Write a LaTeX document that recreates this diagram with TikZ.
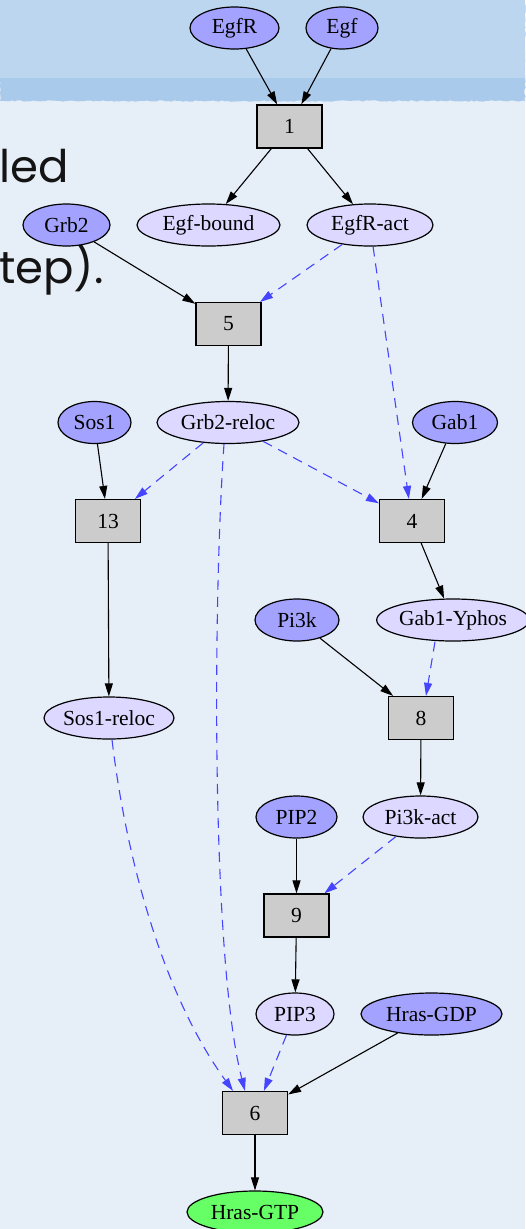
\documentclass[tikz,border=0pt]{standalone}
\usepackage{fontspec}
\setmainfont{Liberation Serif}
\newfontfamily\handfont{Poppins}
\usetikzlibrary{shapes.geometric,arrows.meta,decorations.pathmorphing}
\definecolor{bgLight}{HTML}{E6EEF7}
\definecolor{bgTop}{HTML}{BCD6EF}
\definecolor{bgBand}{HTML}{AACAEB}
\definecolor{darkfill}{HTML}{A3A3FF}
\definecolor{lightfill}{HTML}{DCD8FF}
\definecolor{greenfill}{HTML}{66FF66}
\definecolor{boxfill}{HTML}{CCCCCC}
\definecolor{dashblue}{HTML}{4545FF}
\definecolor{handtext}{HTML}{141414}
\begin{document}
\begin{tikzpicture}[x=1pt,y=-1pt,
  every node/.style={font=\fontsize{21.5}{24}\selectfont, inner sep=0pt},
  species/.style={ellipse, draw=black, line width=1.2pt, minimum height=42pt},
  inspecies/.style={species, fill=darkfill},
  midspecies/.style={species, fill=lightfill},
  outspecies/.style={species, fill=greenfill},
  rxn/.style={rectangle, draw=black, line width=1.2pt, fill=boxfill, minimum width=65pt, minimum height=43pt},
  solidedge/.style={draw=black, line width=1.1pt, -{Triangle[length=13pt,width=8pt]}},
  dashedge/.style={draw=dashblue, line width=1.1pt, dash pattern=on 10pt off 7pt, -{Triangle[length=13pt,width=8pt,fill=dashblue]}},
  handlabel/.style={font=\handfont\fontsize{45}{48}\selectfont, text=handtext, anchor=base west, inner sep=0pt}
]
\useasboundingbox (0,0) rectangle (525,1229);
% background
\fill[bgLight] (0,0) rectangle (525,1229);
\fill[bgBand, decorate, decoration={random steps,segment length=3pt,amplitude=0.8pt}] (0,0) -- (525,0) -- (525,101) -- (0,101) -- cycle;
\fill[bgTop] (0,0) rectangle (525,78);
% left texts
\node[handlabel] (t1) at (-1,182) {led};
\node[handlabel] (t2) at (-1,283) {tep).};
% nodes
\node[inspecies, minimum width=89pt] (egfr) at (234.5,28) {EgfR};
\node[inspecies, minimum width=72pt] (egf) at (342,28) {Egf};
\node[rxn] (r1) at (289.5,126.5) {1};
\node[midspecies, minimum width=143pt] (egfb) at (208.5,225) {Egf-bound};
\node[midspecies, minimum width=126pt] (egfra) at (370,225) {EgfR-act};
\node[inspecies, minimum width=87pt] (grb2) at (66.5,225) {Grb2};
\node[rxn] (r5) at (228.5,324) {5};
\node[midspecies, minimum width=142pt] (grb2r) at (228,422.5) {Grb2-reloc};
\node[inspecies, minimum width=73pt] (sos1) at (94.5,422.5) {Sos1};
\node[inspecies, minimum width=85pt] (gab1) at (455,422.5) {Gab1};
\node[rxn] (r13) at (108,521) {13};
\node[rxn] (r4) at (412,521) {4};
\node[midspecies, minimum width=136pt] (gaby) at (453,620) {Gab1-Yphos};
\node[inspecies, minimum width=84pt] (pi3k) at (297,620) {Pi3k};
\node[midspecies, minimum width=126pt] (sos1r) at (109,718) {Sos1-reloc};
\node[rxn] (r8) at (421,718) {8};
\node[inspecies, minimum width=81pt] (pip2) at (296.5,817) {PIP2};
\node[midspecies, minimum width=115pt] (pi3ka) at (420.5,817) {Pi3k-act};
\node[rxn] (r9) at (296.5,915.5) {9};
\node[midspecies, minimum width=78pt] (pip3) at (295,1014) {PIP3};
\node[inspecies, minimum width=141pt] (hgdp) at (431.5,1014) {Hras-GDP};
\node[rxn] (r6) at (255,1113) {6};
\node[outspecies, minimum width=136pt] (hgtp) at (255,1212) {Hras-GTP};
% solid edges
\draw[solidedge] (egfr) -- (r1);
\draw[solidedge] (egf) -- (r1);
\draw[solidedge] (r1) -- (egfb);
\draw[solidedge] (r1) -- (egfra);
\draw[solidedge] (grb2) -- (r5);
\draw[solidedge] (r5) -- (grb2r);
\draw[solidedge] (sos1) -- (r13);
\draw[solidedge] (gab1) -- (r4);
\draw[solidedge] (r13) -- (sos1r);
\draw[solidedge] (r4) -- (gaby);
\draw[solidedge] (pi3k) -- (r8);
\draw[solidedge] (r8) -- (pi3ka);
\draw[solidedge] (pip2) -- (r9);
\draw[solidedge] (r9) -- (pip3);
\draw[solidedge] (hgdp) -- (r6);
\draw[solidedge] (r6) -- (hgtp);
% dashed edges
\draw[dashedge] (egfra) -- (r5);
\draw[dashedge] (egfra) -- (r4);
\draw[dashedge] (grb2r) -- (r13);
\draw[dashedge] (grb2r) -- (r4);
\draw[dashedge] ([xshift=-18pt]gaby.south) -- ([xshift=5pt]r8.north);
\draw[dashedge] (pi3ka) -- (r9);
\draw[dashedge] (pip3) -- (r6);
\draw[dashedge] ([xshift=-4pt]grb2r.south) .. controls (213,600) and (211,960) .. ([xshift=-10pt]r6.north);
\draw[dashedge] ([xshift=3pt]sos1r.south) .. controls (125,850) and (160,990) .. ([xshift=-22pt]r6.north);
\end{tikzpicture}
\end{document}
